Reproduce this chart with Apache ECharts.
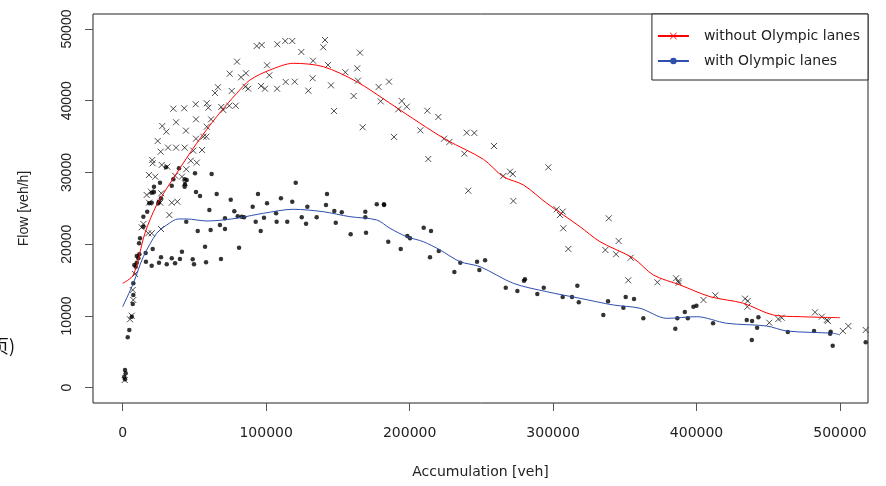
<!DOCTYPE html>
<html>
<head>
<meta charset="utf-8">
<script src="https://cdn.jsdelivr.net/npm/echarts@6/dist/echarts.min.js"></script>
<style>html,body{margin:0;padding:0;background:#fff;}#chart{width:886px;height:486px;}</style>
</head>
<body>
<div id="chart"></div>
<script>
// ---- data (Accumulation [veh], Flow [veh/h]) ----
const accumulationTicks = [0, 100000, 200000, 300000, 400000, 500000];
const flowTicks = [0, 10000, 20000, 30000, 40000, 50000];

const withoutPoints = [
[93400,47630],[96900,47770],[107800,47870],[113300,48330],[118200,48330],[141000,48470],[139800,47450],[124500,46800],[165400,46700],[79700,45450],[100600,44940],[132700,45580],[143100,44990],[155200,43970],[163500,44520],[74600,43770],[85900,43830],[82500,43270],[102200,43550],[132400,43130],[164000,42800],[113600,42620],[119900,42660],[66400,41880],[64300,41080],[76000,41360],[85500,41960],[87500,41680],[96400,42060],[99200,41680],[107600,41680],[129400,41400],[145200,42150],[161000,40660],[178400,41920],[185600,42660],[179800,39920],[147300,38570],[167300,36300],[35300,38890],[42900,38950],[50900,39510],[58600,39650],[59700,39030],[68700,39130],[70100,38710],[74300,39310],[78800,39310],[27600,36480],[30400,35690],[37200,37000],[44100,35830],[51100,37410],[61600,37410],[58600,36380],[51100,34710],[56200,34990],[58300,34990],[24400,34390],[26500,32900],[31600,33460],[37200,33460],[43200,33460],[49200,33040],[55300,33140],[20600,31740],[20900,31280],[27200,31050],[31100,30810],[47400,31640],[51600,31370],[44300,30450],[18300,29650],[22700,29410],[36500,29550],[41300,29410],[43400,28490],[16700,26860],[19700,27320],[26900,27100],[18300,25790],[26200,25790],[34200,25790],[38100,25930],
[194500,39970],[198000,39170],[192100,38810],[212300,38610],[220000,37740],[207500,35880],[189100,34950],[224000,34710],[227700,34250],[239800,35550],[245100,35510],[258800,33690],[238100,32620],[213000,31880],
[240900,27460],[270000,30110],[271900,29790],[265300,29510],[296700,30720],[272300,26030],[302500,24870],[306700,24540],[304800,24070],[307100,22220],[310600,19340],[338800,23610],[345700,20450],[336400,19200],[343900,18600],[354100,18120],[352400,14970],[372700,14690],[385700,15250],[387300,14870],
[387600,14640],[404800,12230],[413100,12880],[433800,12410],[435700,12090],[435400,11290],[450700,9060],[457000,9580],[459400,9760],[482600,10510],[487300,9900],[490800,9440],[491500,9300],[502000,7900],[505800,8600],[517900,8040],
[32500,24070],[26700,22120],[17800,21520],[20200,21520],[13200,22360],[14400,22820],[8600,15850],[7000,13620],[7400,12230],[6300,10040],[5100,9540],[1400,1070]
];

const withPoints = [
[30200,30720],[39200,30580],[50400,29890],[62000,29790],[35300,29050],[43200,29050],[26000,28580],[34200,28160],[43200,28020],[21800,27280],[51100,27280],[53900,26720],[65500,27000],[75300,26210],[90600,25230],[100600,25710],[110300,26400],[118200,25930],[120600,28580],[94300,27000],[128700,25230],[142400,27000],[141700,25470],[177100,25570],[182100,25570],[20200,25790],[24800,25710],
[60400,24770],[77800,24590],[80200,23890],[83000,23840],[84600,23750],[106900,24310],[124800,23750],[127800,22860],[135200,23750],[147500,24630],[152700,24450],[148500,23000],[158900,21380],[169100,24530],[169100,23750],[169600,21610],[92700,23140],[96200,21840],[98500,23700],[107300,23140],[114700,23140],[44300,23140],[52300,21840],[61300,21980],[67800,22680],[71300,22120],[71300,23610],[57400,19660],[81100,19520],[68500,17940],[58100,17480],[41300,18960],[39900,17940],[48800,17900],[49700,17200],[34200,18040],[36500,17340],[26700,18180],[25300,17430],[30700,17200],[20200,17010],[16000,18780],[16200,17560],[20900,19340],[11600,18600],[10900,18040],[9800,17430],[9100,16870],
[44600,28950],[43400,28350],[25300,25930],[26700,26400],[18500,25710],[17100,24530],[14400,23840],[14400,22440],[12100,20830],[11400,20130],[9800,18360],[8100,17100],[7400,14550],[7400,12920],[7000,11670],[6300,9900],[4600,8040],[3500,7030],[1600,2470],[2100,2010],[1100,1530],[1600,1170],[21800,28020],[20200,27180],
[182200,25470],[185100,20350],[193800,19340],[198400,21150],[200300,20830],[209800,22300],[214900,21840],[214200,18180],[220300,19060],[231200,16130],[235300,17430],[247000,17570],[248600,16410],[252600,17760],[267000,13940],[275100,13480],[279700,14920],[280400,15110],[289000,13060],[293500,13940],[306700,12640],[313200,12640],[317900,11900],[316900,14220],
[335000,10130],[338300,12040],[349000,11150],[350600,12640],[356400,12360],[362900,9670],[385200,8220],[386600,9670],[391800,10550],[393900,9670],[397800,11290],[399900,11430],[411500,8980],[435000,9440],[438700,9300],[438500,6650],[442200,8360],[443100,9810],[463600,7760],[481900,7900],[493100,7530],[493500,7810],[494900,5860],[517900,6330]
];

const withoutCurve = [
[0,14550],[7400,15710],[15500,21520],[23700,25470],[37600,29890],[51600,34070],[65500,37780],[79500,41040],[88700,42890],[102700,44290],[118900,45220],[139800,44750],[163100,42660],[186300,39650],[207300,36860],[225800,34530],[251400,31840],[265300,29410],[279300,28260],[295600,25710],[318800,22440],[332700,20350],[356000,18040],[369900,15710],[388500,14320],[409400,12690],[432600,11770],[453500,10130],[472200,9900],[500000,9760]
];

const withCurve = [
[0,11290],[7400,14550],[14400,18260],[23700,21520],[30700,22680],[38800,23520],[44600,23520],[58600,23240],[70100,23380],[81800,23700],[98000,24310],[118900,24870],[139800,24530],[158400,23840],[177100,23380],[186300,22220],[198000,21050],[209600,20350],[221200,19200],[235100,17570],[249100,16870],[272300,14550],[295600,13380],[318800,12460],[342000,11530],[360600,11070],[379200,9670],[400100,9900],[421000,8980],[448900,8600],[462900,7900],[495400,7580],[500000,7350]
];

const seriesNames = ['without Olympic lanes', 'with Olympic lanes'];

// ---- chart ----
const CROSS = 'path://M0,0L10,10M10,0L0,10';
const RED = '#ff0000';
const BLUE = '#2f4fae';
const plain = v => String(v);
const chart = echarts.init(document.getElementById('chart'), null, {renderer: 'canvas'});
chart.setOption({
  animation: false,
  backgroundColor: '#ffffff',
  grid: {left: 93, right: 18, top: 14, bottom: 83, show: true, borderColor: '#222', borderWidth: 1, backgroundColor: 'transparent'},
  xAxis: {
    type: 'value', min: -20700, max: 519500,
    name: 'Accumulation [veh]', nameLocation: 'middle', nameGap: 62,
    nameTextStyle: {fontFamily: 'DejaVu Sans', fontSize: 14, color: '#222'},
    axisLine: {show: false, onZero: false},
    splitLine: {show: false},
    axisTick: {show: true, customValues: accumulationTicks, length: 8, lineStyle: {color: '#555', width: 1}},
    axisLabel: {customValues: accumulationTicks, formatter: plain, margin: 23, fontFamily: 'DejaVu Sans', fontSize: 14, color: '#222'}
  },
  yAxis: {
    type: 'value', min: -2133, max: 52092,
    name: 'Flow [veh/h]', nameLocation: 'middle', nameGap: 62, nameRotate: 90,
    nameTextStyle: {fontFamily: 'Liberation Sans', fontSize: 14, color: '#222'},
    axisLine: {show: false, onZero: false},
    splitLine: {show: false},
    axisTick: {show: true, customValues: flowTicks, length: 8, lineStyle: {color: '#555', width: 1}},
    axisLabel: {customValues: flowTicks, formatter: plain, rotate: 90, margin: 19, fontFamily: 'Liberation Sans', fontSize: 14, color: '#222'}
  },
  legend: {
    orient: 'vertical', right: 18, top: 14,
    padding: [15, 8, 12, 5], itemWidth: 31, itemHeight: 8, itemGap: 11,
    borderColor: '#222', borderWidth: 1, borderRadius: 0, backgroundColor: '#fff',
    textStyle: {fontFamily: 'DejaVu Sans', fontSize: 14, color: '#222', padding: [0, 0, 0, 10]},
    data: [
      {name: seriesNames[0], itemStyle: {color: 'rgba(0,0,0,0)', borderColor: RED, borderWidth: 1}},
      {name: seriesNames[1], itemStyle: {color: BLUE, borderWidth: 0}}
    ]
  },
  graphic: [{type: 'text', left: -9, top: 337, style: {text: '页)', font: '18px "Noto Sans CJK SC"', fill: '#111'}}],
  series: [
    {type: 'scatter', name: 'pts-without', data: withoutPoints, symbol: CROSS, symbolSize: 6,
     itemStyle: {color: 'rgba(0,0,0,0)', borderColor: '#222', borderWidth: 1}, z: 2},
    {type: 'scatter', name: 'pts-with', data: withPoints, symbol: 'circle', symbolSize: 4.5,
     itemStyle: {color: '#000'}, z: 2},
    {type: 'line', name: seriesNames[0], data: withoutCurve, showSymbol: false, symbol: CROSS, symbolSize: 7, smooth: 0.3,
     lineStyle: {color: RED, width: 1}, itemStyle: {color: RED, borderColor: RED, borderWidth: 1}, z: 3},
    {type: 'line', name: seriesNames[1], data: withCurve, showSymbol: false, symbol: 'circle', symbolSize: 6, smooth: 0.3,
     lineStyle: {color: BLUE, width: 1}, itemStyle: {color: BLUE}, z: 3}
  ]
});
</script>
</body>
</html>
